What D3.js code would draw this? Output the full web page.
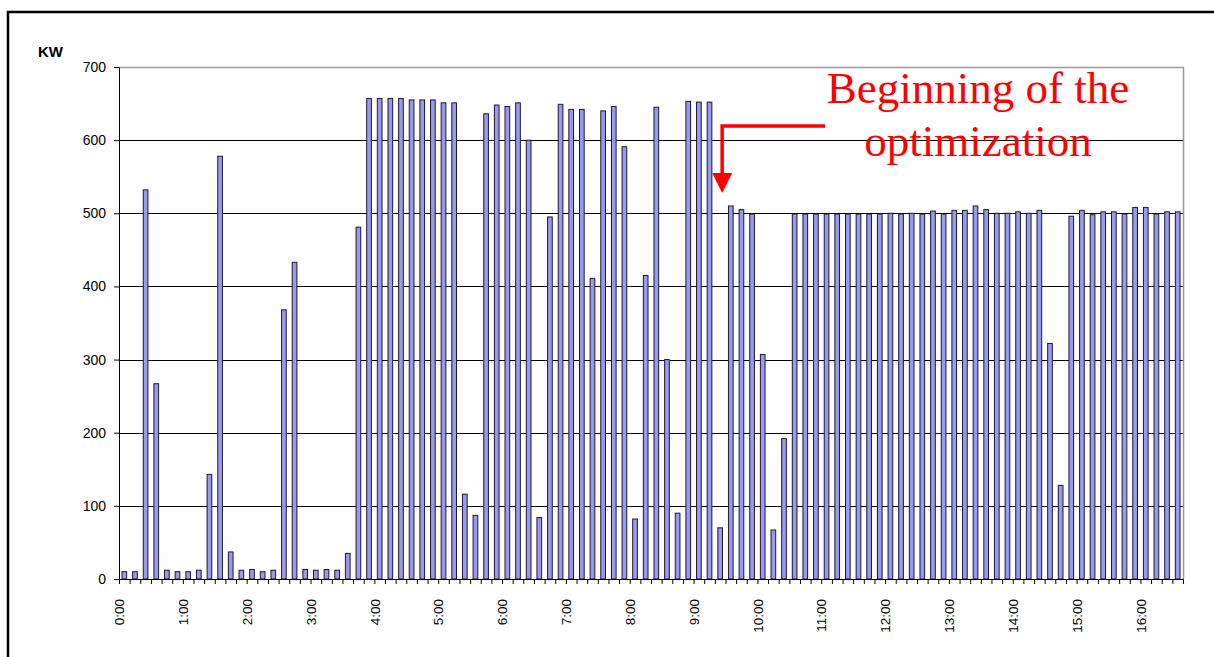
<!DOCTYPE html>
<html>
<head>
<meta charset="utf-8">
<script src="https://cdn.jsdelivr.net/npm/d3@7"></script>
<style>
  html, body { margin: 0; padding: 0; background: #ffffff; }
  svg { display: block; }
</style>
</head>
<body>
<svg id="chart" width="1214" height="657"></svg>
<script>
// ---- data ----
const hourLabels = ["0:00","1:00","2:00","3:00","4:00","5:00","6:00","7:00","8:00",
  "9:00","10:00","11:00","12:00","13:00","14:00","15:00","16:00"];
const categories = d3.range(100).map(i => Math.floor(i / 6) + ":" + String((i % 6) * 10).padStart(2, "0"));
const powerKW = [
  10, 10, 532, 267, 12, 10, 10, 12, 143, 578,
  37, 12, 13, 10, 12, 368, 433, 13, 12, 13,
  12, 35, 481, 657, 657, 657, 657, 655, 655, 655,
  651, 651, 116, 87, 636, 648, 646, 651, 600, 84,
  495, 649, 642, 642, 411, 640, 646, 591, 82, 415,
  645, 300, 90, 653, 652, 652, 70, 510, 505, 499,
  307, 67, 192, 499, 499, 499, 499, 499, 499, 499,
  499, 499, 500, 499, 500, 499, 503, 499, 504, 504,
  510, 505, 500, 500, 502, 500, 504, 322, 128, 496,
  504, 498, 502, 502, 499, 508, 508, 499, 502, 502
];
const yTicks = [0, 100, 200, 300, 400, 500, 600, 700];
const unitLabel = "KW";
const annotationLines = ["Beginning of the", "optimization"];

// ---- layout ----
const svg = d3.select("#chart");
const pL = 119, pR = 1183, pT = 67, pB = 579;

const x = d3.scaleBand().domain(categories).range([pL, pR])
  .paddingInner(0.56).paddingOuter(0.28);
const xIdx = d3.scaleLinear().domain([0, categories.length]).range([pL, pR]);
const y = d3.scaleLinear().domain([0, 700]).range([pB, pT]);

// outer frame
svg.append("rect").attr("x", 8).attr("y", 12).attr("width", 1260).attr("height", 700)
  .attr("fill", "none").attr("stroke", "#000").attr("stroke-width", 2.5);

// gridlines
svg.append("g").selectAll("line").data(yTicks.filter(d => d > 0 && d < 700)).join("line")
  .attr("x1", pL).attr("x2", pR)
  .attr("y1", d => Math.round(y(d)) + 0.5).attr("y2", d => Math.round(y(d)) + 0.5)
  .attr("stroke", "#000").attr("stroke-width", 1);

// plot border top/right (grey)
svg.append("path")
  .attr("d", `M${pL},${pT + 0.5}H${pR + 0.5}V${pB}`)
  .attr("fill", "none").attr("stroke", "#9a9a9a").attr("stroke-width", 1.5);

// bars
svg.append("g").selectAll("rect").data(powerKW).join("rect")
  .attr("x", (d, i) => x(categories[i]))
  .attr("width", x.bandwidth())
  .attr("y", d => y(d))
  .attr("height", d => y(0) - y(d))
  .attr("fill", "#9999ee")
  .attr("stroke", "#1a1a33").attr("stroke-width", 1);

const fontAxis = "'Liberation Sans', Arial, sans-serif";

// y axis
const yAxis = svg.append("g").attr("transform", `translate(${pL},0)`)
  .call(d3.axisLeft(y).tickValues(yTicks).tickSize(5).tickPadding(8).tickFormat(d3.format("d")));
yAxis.select(".domain").attr("stroke", "#000");
yAxis.selectAll(".tick line").attr("stroke", "#000");
yAxis.selectAll("text").attr("font-family", fontAxis).attr("font-size", "14px").attr("fill", "#000");

// x axis ticks (every category boundary)
const xAxis = svg.append("g").attr("transform", `translate(0,${pB})`)
  .call(d3.axisBottom(xIdx).tickValues(d3.range(0, categories.length + 1)).tickSize(5).tickFormat(""));
xAxis.select(".domain").attr("stroke", "#000");
xAxis.selectAll(".tick line").attr("stroke", "#000");

// x hour labels
const labelAxis = svg.append("g").attr("transform", `translate(0,${pB})`)
  .call(d3.axisBottom(xIdx).tickValues(hourLabels.map((h, i) => i * 6)).tickSize(0)
    .tickFormat((d, i) => hourLabels[i]));
labelAxis.select(".domain").remove();
labelAxis.selectAll("text")
  .attr("font-family", fontAxis).attr("font-size", "13.5px").attr("fill", "#000")
  .attr("transform", "rotate(-90)")
  .attr("text-anchor", "end")
  .attr("x", -20).attr("y", 0).attr("dy", "0.35em");

// unit label
svg.append("text").attr("x", 38).attr("y", 57).text(unitLabel)
  .attr("font-family", fontAxis).attr("font-size", "15px").attr("font-weight", "bold");

// annotation
const ann = svg.append("g");
ann.selectAll("text").data(annotationLines).join("text")
  .attr("x", 978).attr("y", (d, i) => 103 + i * 53)
  .attr("text-anchor", "middle")
  .attr("font-family", "'Liberation Serif', 'Times New Roman', serif")
  .attr("font-size", "45px").attr("fill", "#ff0000")
  .text(d => d);

const ax = x(categories[56]) + x.bandwidth() / 2 + 2;
ann.append("path")
  .attr("d", `M825,126H${ax}V176`)
  .attr("fill", "none").attr("stroke", "#ff0000").attr("stroke-width", 3.5);
ann.append("path")
  .attr("d", `M${ax - 10},173L${ax + 10},173L${ax},193Z`)
  .attr("fill", "#ff0000");
</script>
</body>
</html>
